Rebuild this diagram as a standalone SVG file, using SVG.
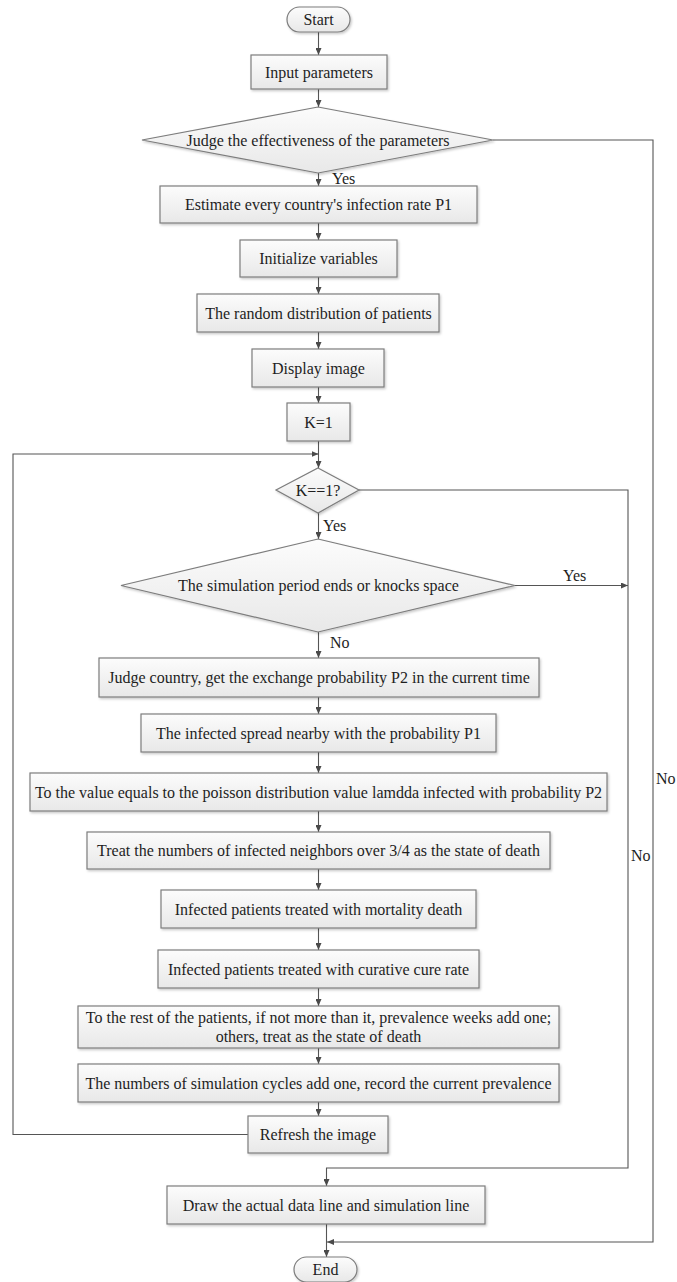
<svg xmlns="http://www.w3.org/2000/svg" width="677" height="1282" viewBox="0 0 677 1282">
<defs>
<linearGradient id="g" x1="0" y1="0" x2="0" y2="1">
<stop offset="0" stop-color="#fcfcfc"/>
<stop offset="1" stop-color="#e8e8e8"/>
</linearGradient>
<filter id="s" x="-5%" y="-20%" width="110%" height="150%">
<feDropShadow dx="1.2" dy="1.5" stdDeviation="0.8" flood-color="#000" flood-opacity="0.22"/>
</filter>
<marker id="a" markerUnits="userSpaceOnUse" markerWidth="8" markerHeight="6" refX="7" refY="3" orient="auto">
<path d="M0,0 L7,3 L0,6 z" fill="#4a4a4a"/>
</marker>
</defs>
<style>
.n{fill:url(#g);stroke:#7d7d7d;stroke-width:1.2;filter:url(#s)}
.t{font-size:16px;fill:#1e1e1e;text-anchor:middle}
.l{font-size:16px;fill:#1e1e1e}
.c{fill:none;stroke:#555;stroke-width:1.1}
.m{marker-end:url(#a)}
</style>
<rect width="677" height="1282" fill="#fff"/>
<g font-family="'Liberation Serif', 'Times New Roman', serif">
<g id="connectors">
<path class="c m" d="M318.5,32 V55"/>
<path class="c m" d="M318.5,89 V107"/>
<path class="c m" d="M318.5,173 V186"/>
<path class="c m" d="M318.5,223 V240"/>
<path class="c m" d="M318.5,277 V294"/>
<path class="c m" d="M318.5,332 V349"/>
<path class="c m" d="M318.5,387 V403"/>
<path class="c m" d="M318.5,441 V468"/>
<path class="c m" d="M248,1134.5 H13 V454 H318.5"/>
<path class="c m" d="M318.5,513 V539"/>
<path class="c m" d="M515,585.5 H628"/>
<path class="c m" d="M359,490 H628 V1168 H326.5 V1186"/>
<path class="c m" d="M318.5,632 V658"/>
<path class="c m" d="M318.5,697 V714"/>
<path class="c m" d="M318.5,752 V773"/>
<path class="c m" d="M318.5,811 V832"/>
<path class="c m" d="M318.5,869 V890"/>
<path class="c m" d="M318.5,928 V950"/>
<path class="c m" d="M318.5,988 V1006"/>
<path class="c m" d="M318.5,1048 V1064"/>
<path class="c m" d="M318.5,1102 V1116"/>
<path class="c m" d="M326.5,1224 V1257"/>
<path class="c m" d="M493,140 H653 V1242 H327"/>
<text class="l" x="332" y="184">Yes</text>
<text class="l" x="323" y="531">Yes</text>
<text class="l" x="563" y="581">Yes</text>
<text class="l" x="330" y="648">No</text>
<text class="l" x="656" y="784">No</text>
<text class="l" x="631" y="861">No</text>
</g>
<g id="start"><rect class="n" x="287" y="7" width="63" height="25" rx="12.5"/><text class="t" x="318.5" y="25">Start</text></g>
<g id="input"><rect class="n" x="251" y="55" width="136" height="34"/><text class="t" x="319" y="77.5">Input parameters</text></g>
<g id="judge1"><polygon class="n" points="318,107 493,140 318,173 142,140"/><text class="t" x="318" y="145.5">Judge the effectiveness of the parameters</text></g>
<g id="estimate"><rect class="n" x="160" y="186" width="317" height="37"/><text class="t" x="318.5" y="210">Estimate every country's infection rate P1</text></g>
<g id="init"><rect class="n" x="240" y="240" width="157" height="37"/><text class="t" x="318.5" y="264">Initialize variables</text></g>
<g id="random"><rect class="n" x="197" y="294" width="242" height="38"/><text class="t" x="318.5" y="318.5">The random distribution of patients</text></g>
<g id="display"><rect class="n" x="252" y="349" width="132" height="38"/><text class="t" x="318.5" y="373.5">Display image</text></g>
<g id="k1"><rect class="n" x="287" y="403" width="63" height="38"/><text class="t" x="318.5" y="427.5">K=1</text></g>
<g id="kcheck"><polygon class="n" points="318,468 359,490 318,513 276,490"/><text class="t" x="318" y="495.5">K==1?</text></g>
<g id="simend"><polygon class="n" points="318,539 515,585.5 318,632 121,585.5"/><text class="t" x="318.5" y="591">The simulation period ends or knocks space</text></g>
<g id="country"><rect class="n" x="99" y="658" width="440" height="39"/><text class="t" x="319" y="683">Judge country, get the exchange probability P2 in the current time</text></g>
<g id="spread"><rect class="n" x="141" y="714" width="355" height="38"/><text class="t" x="318.5" y="738.5">The infected spread nearby with the probability P1</text></g>
<g id="poisson"><rect class="n" x="30" y="773" width="577" height="38"/><text class="t" x="318.5" y="797.5">To the value equals to the poisson distribution value lamdda infected with probability P2</text></g>
<g id="treat"><rect class="n" x="87" y="832" width="463" height="37"/><text class="t" x="318.5" y="856">Treat the numbers of infected neighbors over 3/4 as the state of death</text></g>
<g id="mortality"><rect class="n" x="161" y="890" width="315" height="38"/><text class="t" x="318.5" y="914.5">Infected patients treated with mortality death</text></g>
<g id="curative"><rect class="n" x="158" y="950" width="321" height="38"/><text class="t" x="318.5" y="974.5">Infected patients treated with curative cure rate</text></g>
<g id="rest"><rect class="n" x="78" y="1006" width="481" height="42"/><text class="t" x="318.5" y="1023">To the rest of the patients, if not more than it, prevalence weeks add one;</text><text class="t" x="318.5" y="1042">others, treat as the state of death</text></g>
<g id="cycles"><rect class="n" x="78" y="1064" width="481" height="38"/><text class="t" x="318.5" y="1088.5">The numbers of simulation cycles add one, record the current prevalence</text></g>
<g id="refresh"><rect class="n" x="248" y="1116" width="140" height="37"/><text class="t" x="318" y="1140">Refresh the image</text></g>
<g id="draw"><rect class="n" x="167" y="1186" width="318" height="38"/><text class="t" x="326" y="1210.5">Draw the actual data line and simulation line</text></g>
<g id="end"><rect class="n" x="294" y="1257" width="63" height="25" rx="12.5"/><text class="t" x="325.5" y="1275">End</text></g>
</g>
</svg>
